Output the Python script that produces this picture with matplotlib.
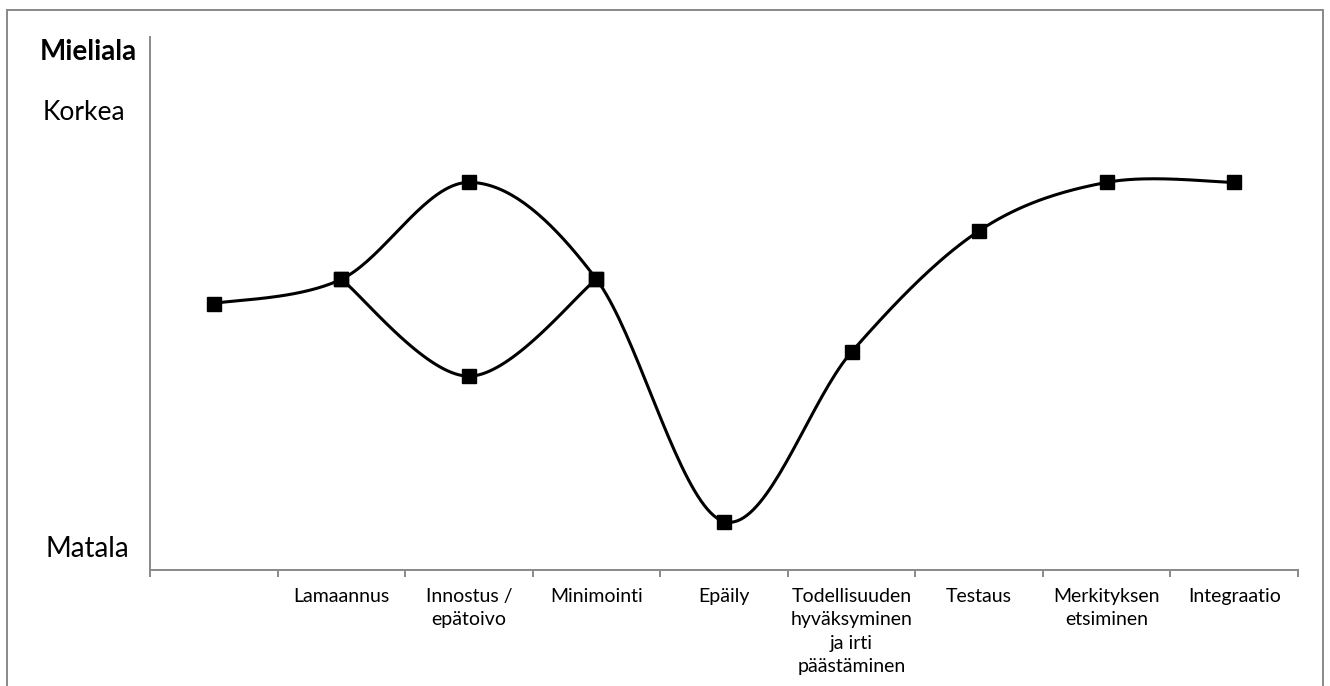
import numpy as np
import matplotlib
matplotlib.use('Agg')
import matplotlib.pyplot as plt
from matplotlib.patches import Rectangle

# vaiheet ja mieliala (0 = matala, 11 = korkea)
vaiheet = ['', 'Lamaannus', 'Innostus /\nepätoivo', 'Minimointi', 'Epäily',
           'Todellisuuden\nhyväksyminen\nja irti\npäästäminen', 'Testaus',
           'Merkityksen\netsiminen', 'Integraatio']
mieliala_ylä = [5.5, 6, 8, 6, 1, 4.5, 7, 8, 8]
ala_x = [1, 2, 3]
mieliala_ala = [6, 4, 6]

plt.rcParams['font.family'] = ['Lato', 'DejaVu Sans']


def smooth(x, y, n=40):
    # Catmull-Rom tyyppinen pehmennys kuten Excelissä
    x = np.asarray(x, float)
    y = np.asarray(y, float)
    px = np.concatenate([[x[0]], x, [x[-1]]])
    py = np.concatenate([[y[0]], y, [y[-1]]])
    xs, ys = [], []
    t = np.linspace(0, 1, n)
    for i in range(1, len(px) - 2):
        p0 = np.array([px[i], py[i]])
        p3 = np.array([px[i + 1], py[i + 1]])
        c1 = p0 + (np.array([px[i + 1], py[i + 1]]) - np.array([px[i - 1], py[i - 1]])) / 6
        c2 = p3 - (np.array([px[i + 2], py[i + 2]]) - np.array([px[i], py[i]])) / 6
        b = ((1 - t) ** 3)[:, None] * p0 + (3 * (1 - t) ** 2 * t)[:, None] * c1 \
            + (3 * (1 - t) * t ** 2)[:, None] * c2 + (t ** 3)[:, None] * p3
        xs.extend(b[:, 0])
        ys.extend(b[:, 1])
    return np.array(xs), np.array(ys)


fig = plt.figure(figsize=(13.3, 6.86), dpi=100)
ax = fig.add_axes([150 / 1330, 1 - 570 / 686, 1148 / 1330, 533 / 686])

x_ylä = np.arange(len(vaiheet))
sx, sy = smooth(x_ylä, mieliala_ylä)
ax.plot(sx, sy, color='black', lw=2.2, solid_capstyle='round')
sx, sy = smooth(ala_x, mieliala_ala)
ax.plot(sx, sy, color='black', lw=2.2, solid_capstyle='round')
ax.plot(x_ylä, mieliala_ylä, 's', color='black', ms=10.5)
ax.plot(ala_x, mieliala_ala, 's', color='black', ms=10.5)

ax.set_xlim(-0.5, len(vaiheet) - 0.5)
ax.set_ylim(0, 11)
ax.set_yticks([])
ax.set_xticks(np.arange(-0.5, len(vaiheet), 1))
ax.set_xticklabels([])
ax.set_xticks(x_ylä, minor=True)
ax.set_xticklabels(vaiheet, minor=True, fontsize=14, linespacing=1.45, va='top')
ax.tick_params(axis='x', which='major', length=5, width=1.4, color='#898989')
ax.tick_params(axis='x', which='minor', length=0, pad=13)
for s in ['top', 'right']:
    ax.spines[s].set_visible(False)
for s in ['left', 'bottom']:
    ax.spines[s].set_color('#898989')
    ax.spines[s].set_linewidth(1.4)

fig.text(88 / 1330, 1 - 52 / 686, 'Mieliala', fontsize=20, fontweight='bold',
         ha='center', va='center')
fig.text(84 / 1330, 1 - 112 / 686, 'Korkea', fontsize=19, ha='center', va='center')
fig.text(87 / 1330, 1 - 549 / 686, 'Matala', fontsize=20, ha='center', va='center')

fig.patches.append(Rectangle((7 / 1330, -0.1), 1316 / 1330, 1.1 - 10 / 686,
                             transform=fig.transFigure, fill=False,
                             edgecolor='#898989', lw=1.4))

fig.savefig('out.png', dpi=100)
